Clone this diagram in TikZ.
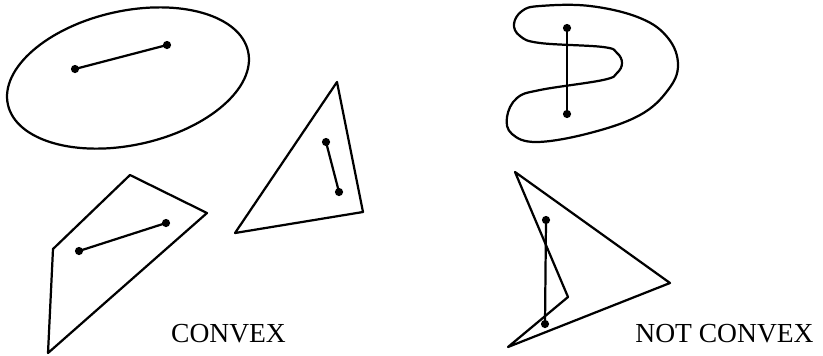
\documentclass[tikz,border=0pt]{standalone}
\usepackage{fontspec}
\setmainfont{Liberation Serif}
\usetikzlibrary{calc}
\tikzset{outline/.style={draw, line width=1.9pt, line join=round},
  seg/.style={line width=1.9pt},
  dot/.style={fill, circle, inner sep=0pt, minimum size=7pt},
  caption/.style={font=\fontsize{23.5}{28}\selectfont, anchor=base, inner sep=0pt}}

\begin{document}
\begin{tikzpicture}[x=0.03cm, y=0.03cm]
  \useasboundingbox (0,0) rectangle (823,-355);
  % convex shapes
  \draw[outline] (128,-78) ellipse [x radius=123, y radius=67, rotate=12.5];
  \draw[outline] (337,-82) -- (363,-212) -- (235,-233) -- cycle;
  \draw[outline] (130,-175) -- (207,-213) -- (48,-353) -- (53,-249) -- cycle;
  % not convex shapes
  \draw[outline] plot[smooth cycle, tension=0.65] coordinates {(540,-6) (590,-6) (640,-18) (668,-38) (678,-65)
    (668,-90) (640,-115) (590,-133) (537,-142) (512,-134) (507,-117) (517,-98) (540,-90) (603,-80)
    (617,-73) (622,-63) (617,-53) (603,-47) (540,-43) (520,-36) (514,-24) (522,-11)};
  \draw[outline] (515,-172) -- (670,-283) -- (508,-347) -- (568,-297) -- cycle;
  % segment end points
  \coordinate (a1) at (75,-69);   \coordinate (a2) at (167,-45);
  \coordinate (b1) at (326,-142); \coordinate (b2) at (339,-192);
  \coordinate (c1) at (79,-251);  \coordinate (c2) at (166,-223);
  \coordinate (d1) at (567,-28);  \coordinate (d2) at (567,-114);
  \coordinate (e1) at (546,-220); \coordinate (e2) at (545,-324);
  \foreach \p/\q in {a1/a2, b1/b2, c1/c2, d1/d2, e1/e2}{
    \draw[seg] (\p) -- (\q);
    \node[dot] at (\p) {}; \node[dot] at (\q) {};}
  % labels
  \node[caption] (lconv) at (228.5,-342) {CONVEX};
  \node[caption] (lnot) at (724.5,-342) {NOT CONVEX};
\end{tikzpicture}
\end{document}
